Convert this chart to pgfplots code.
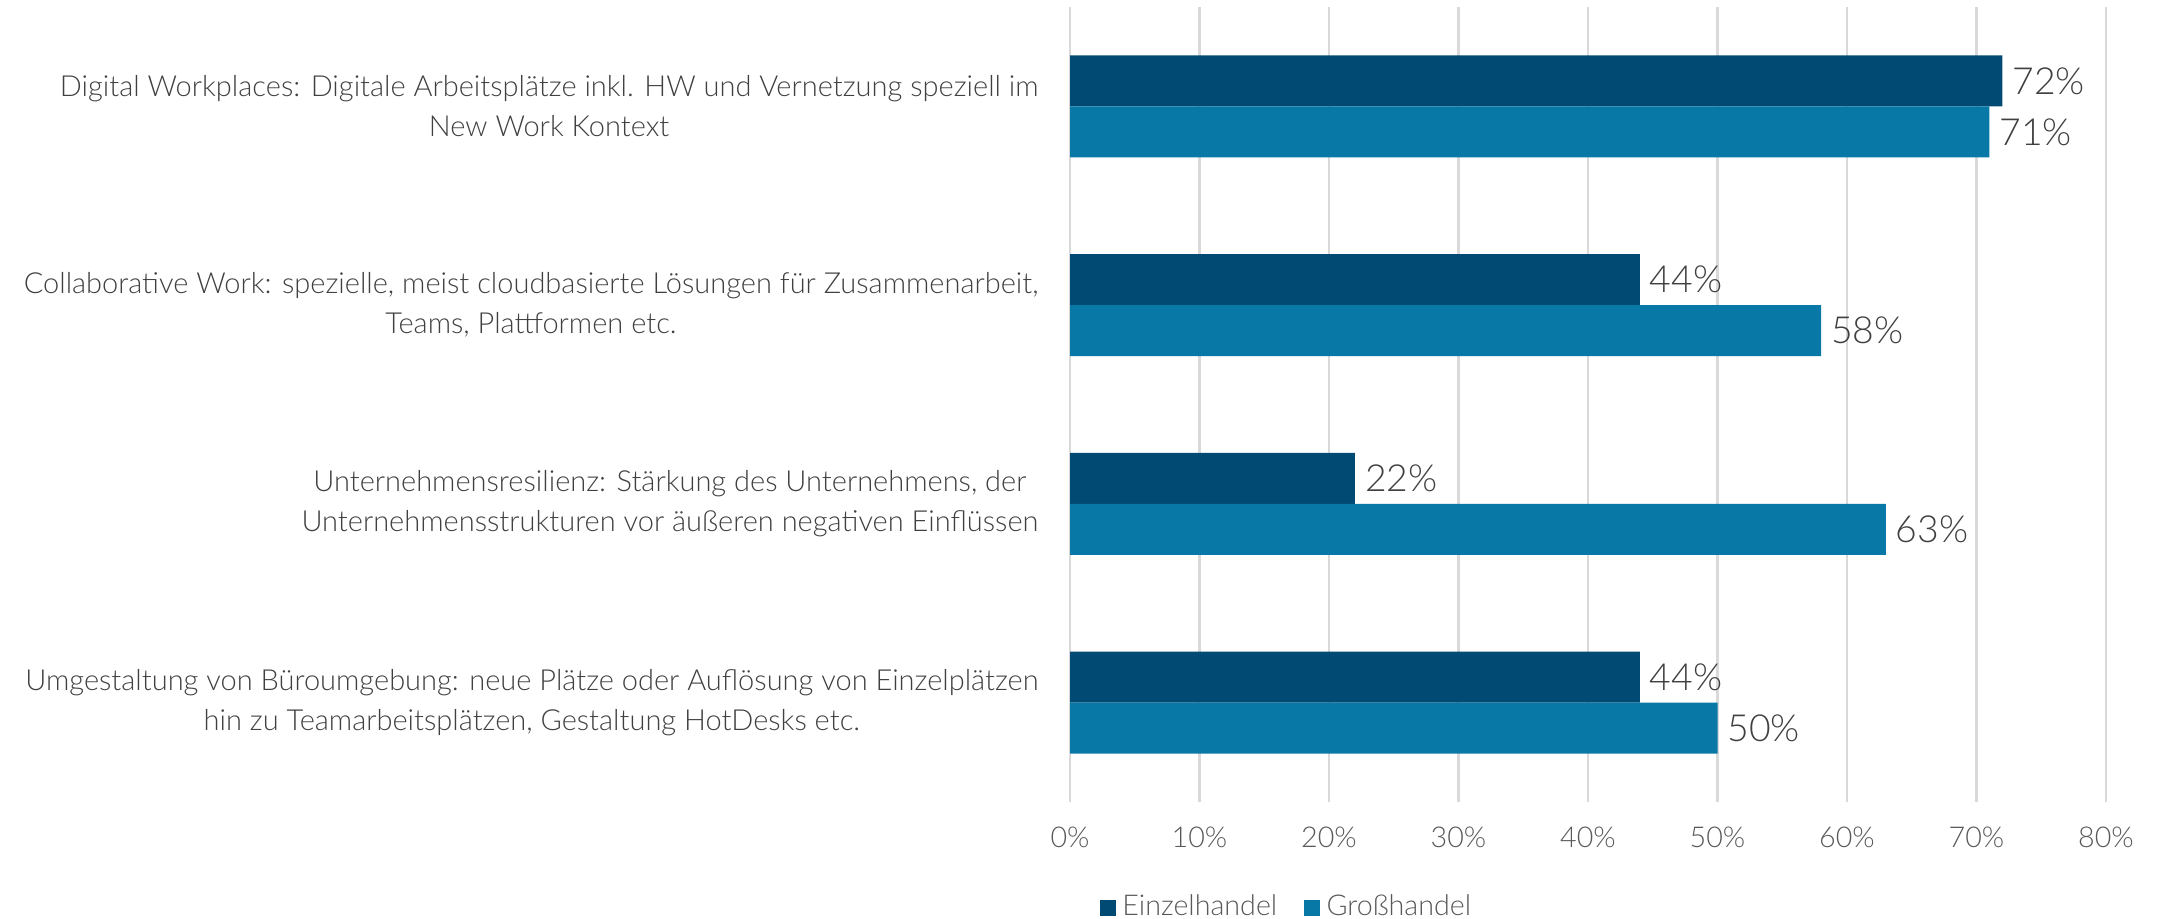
\documentclass[border=0pt]{standalone}
\usepackage{fontspec}
\setmainfont{Lato}[UprightFont=* Light]
\usepackage{pgfplots}
\pgfplotsset{compat=1.18}
\definecolor{einzel}{HTML}{014A73}
\definecolor{gross}{HTML}{0878A6}
\definecolor{txt}{HTML}{404040}
\definecolor{tick}{HTML}{595959}
\definecolor{gridc}{HTML}{D9D9D9}

\begin{document}
\begin{tikzpicture}
\begin{axis}[
    name=ax,
    scale only axis,
    width=310.8pt, height=238.5pt,
    xbar=0pt, bar width=15.3pt,
    xmin=0, xmax=80,
    ymin=-0.5, ymax=3.5,
    y dir=reverse,
    axis line style={draw=none},
    major tick length=0pt,
    xtick={0,10,...,80},
    xmajorgrids, grid style={gridc, line width=0.8pt},
    /pgf/number format/assume math mode=true,
    xticklabel={\pgfmathprintnumber{\tick}\%},
    xticklabel style={font=\fontsize{8.6}{10}\selectfont, text=tick, yshift=-4pt},
    ytick={0,1,2,3},
    yticklabels={
        {Digital Workplaces: Digitale Arbeitsplätze inkl. HW und Vernetzung speziell im\\New Work Kontext},
        {Collaborative Work: spezielle, meist cloudbasierte Lösungen für Zusammenarbeit,\\Teams, Plattformen etc.},
        {Unternehmensresilienz: Stärkung des Unternehmens, der\\Unternehmensstrukturen vor äußeren negativen Einflüssen},
        {Umgestaltung von Büroumgebung: neue Plätze oder Auflösung von Einzelplätzen\\hin zu Teamarbeitsplätzen, Gestaltung HotDesks etc.}},
    yticklabel style={font=\fontsize{8.7}{12}\selectfont, text=txt, align=center, xshift=-6pt},
    nodes near coords={\pgfmathprintnumber{\pgfplotspointmeta}\%},
    nodes near coords style={font=\fontsize{11.2}{13}\selectfont, text=txt, anchor=west, xshift=-0.5pt},
    legend columns=2,
    legend style={draw=none, fill=none, font=\fontsize{8.6}{10}\selectfont, text=tick,
        at={([xshift=-3.3pt, yshift=-31.8pt]axis description cs:0.029,0)}, anchor=west,
        /tikz/every even column/.append style={column sep=6pt}},
    legend image code/.code={\fill (0pt,-2.4pt) rectangle (4.8pt,2.4pt);},
]
\addplot[draw=none, fill=einzel, bar shift=7.65pt] coordinates {(72,0) (44,1) (22,2) (44,3)};
\addlegendentry{Einzelhandel}
\addplot[draw=none, fill=gross, bar shift=-7.65pt] coordinates {(71,0) (58,1) (63,2) (50,3)};
\addlegendentry{Großhandel}
\end{axis}
\pgfresetboundingbox
\path[use as bounding box] ([xshift=-321pt, yshift=-35.1pt]ax.south west) rectangle ([xshift=15.3pt, yshift=2.1pt]ax.north east);
\end{tikzpicture}
\end{document}
